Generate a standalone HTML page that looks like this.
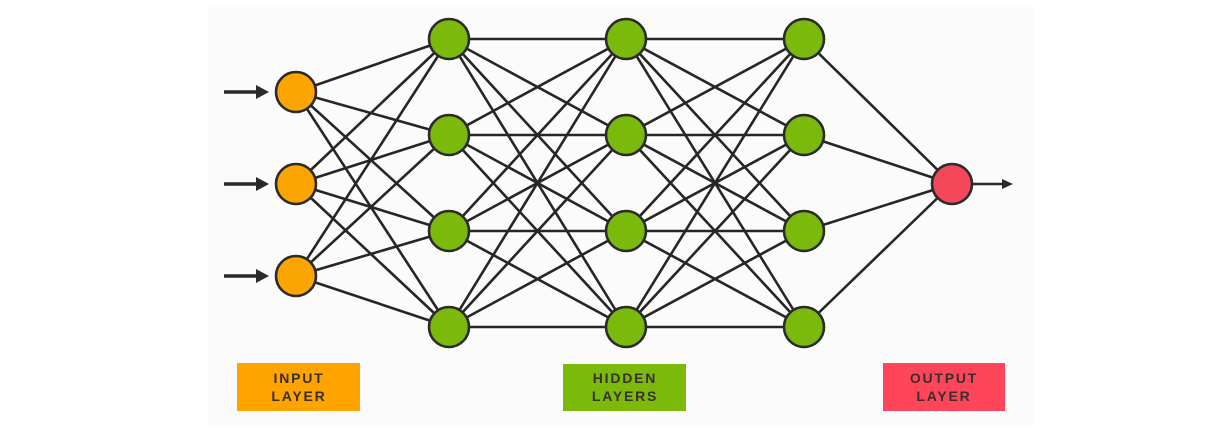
<!DOCTYPE html>
<html>
<head>
<meta charset="utf-8">
<style>
  html, body { margin:0; padding:0; background:#ffffff; }
  body { width:1213px; height:429px; overflow:hidden; }
  svg { display:block; }
  .lbl { font-family:"Liberation Sans", sans-serif; font-weight:bold; font-size:14px; letter-spacing:1.8px; fill:#3a2f2f; text-anchor:middle; }
</style>
</head>
<body>
<svg width="1213" height="429" viewBox="0 0 1213 429" xmlns="http://www.w3.org/2000/svg">
  <rect x="0" y="0" width="1213" height="429" fill="#ffffff"/>
  <rect x="208" y="7" width="825" height="418" fill="#fbfbfb"/>

  <g stroke="#262626" stroke-width="2.6" stroke-linecap="round">
    <!-- input -> H1 -->
    <line x1="296" y1="92" x2="449" y2="39"/>
    <line x1="296" y1="92" x2="449" y2="135"/>
    <line x1="296" y1="92" x2="449" y2="231"/>
    <line x1="296" y1="92" x2="449" y2="327"/>
    <line x1="296" y1="184" x2="449" y2="39"/>
    <line x1="296" y1="184" x2="449" y2="135"/>
    <line x1="296" y1="184" x2="449" y2="231"/>
    <line x1="296" y1="184" x2="449" y2="327"/>
    <line x1="296" y1="276" x2="449" y2="39"/>
    <line x1="296" y1="276" x2="449" y2="135"/>
    <line x1="296" y1="276" x2="449" y2="231"/>
    <line x1="296" y1="276" x2="449" y2="327"/>
    <!-- H1 -> H2 -->
    <line x1="449" y1="39" x2="626" y2="39"/>
    <line x1="449" y1="39" x2="626" y2="135"/>
    <line x1="449" y1="39" x2="626" y2="231"/>
    <line x1="449" y1="39" x2="626" y2="327"/>
    <line x1="449" y1="135" x2="626" y2="39"/>
    <line x1="449" y1="135" x2="626" y2="135"/>
    <line x1="449" y1="135" x2="626" y2="231"/>
    <line x1="449" y1="135" x2="626" y2="327"/>
    <line x1="449" y1="231" x2="626" y2="39"/>
    <line x1="449" y1="231" x2="626" y2="135"/>
    <line x1="449" y1="231" x2="626" y2="231"/>
    <line x1="449" y1="231" x2="626" y2="327"/>
    <line x1="449" y1="327" x2="626" y2="39"/>
    <line x1="449" y1="327" x2="626" y2="135"/>
    <line x1="449" y1="327" x2="626" y2="231"/>
    <line x1="449" y1="327" x2="626" y2="327"/>
    <!-- H2 -> H3 -->
    <line x1="626" y1="39" x2="804" y2="39"/>
    <line x1="626" y1="39" x2="804" y2="135"/>
    <line x1="626" y1="39" x2="804" y2="231"/>
    <line x1="626" y1="39" x2="804" y2="327"/>
    <line x1="626" y1="135" x2="804" y2="39"/>
    <line x1="626" y1="135" x2="804" y2="135"/>
    <line x1="626" y1="135" x2="804" y2="231"/>
    <line x1="626" y1="135" x2="804" y2="327"/>
    <line x1="626" y1="231" x2="804" y2="39"/>
    <line x1="626" y1="231" x2="804" y2="135"/>
    <line x1="626" y1="231" x2="804" y2="231"/>
    <line x1="626" y1="231" x2="804" y2="327"/>
    <line x1="626" y1="327" x2="804" y2="39"/>
    <line x1="626" y1="327" x2="804" y2="135"/>
    <line x1="626" y1="327" x2="804" y2="231"/>
    <line x1="626" y1="327" x2="804" y2="327"/>
    <!-- H3 -> output -->
    <line x1="804" y1="39" x2="952" y2="184"/>
    <line x1="804" y1="135" x2="952" y2="184"/>
    <line x1="804" y1="231" x2="952" y2="184"/>
    <line x1="804" y1="327" x2="952" y2="184"/>
  </g>

  <!-- input arrows -->
  <g stroke="#2a2a2a" stroke-width="3.4">
    <line x1="224" y1="92" x2="260" y2="92"/>
    <line x1="224" y1="184" x2="260" y2="184"/>
    <line x1="224" y1="276" x2="260" y2="276"/>
  </g>
  <g fill="#2a2a2a">
    <polygon points="256,85 269,92 256,99"/>
    <polygon points="256,177 269,184 256,191"/>
    <polygon points="256,269 269,276 256,283"/>
    <!-- output arrow -->
    <polygon points="1002,179 1013,184 1002,189"/>
  </g>
  <line x1="972" y1="184" x2="1004" y2="184" stroke="#2a2a2a" stroke-width="2.6"/>

  <!-- nodes -->
  <g stroke="#2b2b2b" stroke-width="2.6">
    <circle cx="296" cy="92" r="20" fill="#FBA502"/>
    <circle cx="296" cy="184" r="20" fill="#FBA502"/>
    <circle cx="296" cy="276" r="20" fill="#FBA502"/>

    <circle cx="449" cy="39" r="20" fill="#7BBA0C"/>
    <circle cx="449" cy="135" r="20" fill="#7BBA0C"/>
    <circle cx="449" cy="231" r="20" fill="#7BBA0C"/>
    <circle cx="449" cy="327" r="20" fill="#7BBA0C"/>

    <circle cx="626" cy="39" r="20" fill="#7BBA0C"/>
    <circle cx="626" cy="135" r="20" fill="#7BBA0C"/>
    <circle cx="626" cy="231" r="20" fill="#7BBA0C"/>
    <circle cx="626" cy="327" r="20" fill="#7BBA0C"/>

    <circle cx="804" cy="39" r="20" fill="#7BBA0C"/>
    <circle cx="804" cy="135" r="20" fill="#7BBA0C"/>
    <circle cx="804" cy="231" r="20" fill="#7BBA0C"/>
    <circle cx="804" cy="327" r="20" fill="#7BBA0C"/>

    <circle cx="952" cy="184" r="20" fill="#F5475A"/>
  </g>

  <!-- labels -->
  <rect x="237" y="363" width="123" height="48" fill="#FFA300"/>
  <text class="lbl" x="299" y="383">INPUT</text>
  <text class="lbl" x="299" y="401">LAYER</text>

  <rect x="563" y="364" width="123" height="47" fill="#7BB90A"/>
  <text class="lbl" x="625" y="383">HIDDEN</text>
  <text class="lbl" x="625" y="401">LAYERS</text>

  <rect x="883" y="363" width="122" height="48" fill="#FF4559"/>
  <text class="lbl" x="944" y="383">OUTPUT</text>
  <text class="lbl" x="944" y="401">LAYER</text>
</svg>
</body>
</html>
